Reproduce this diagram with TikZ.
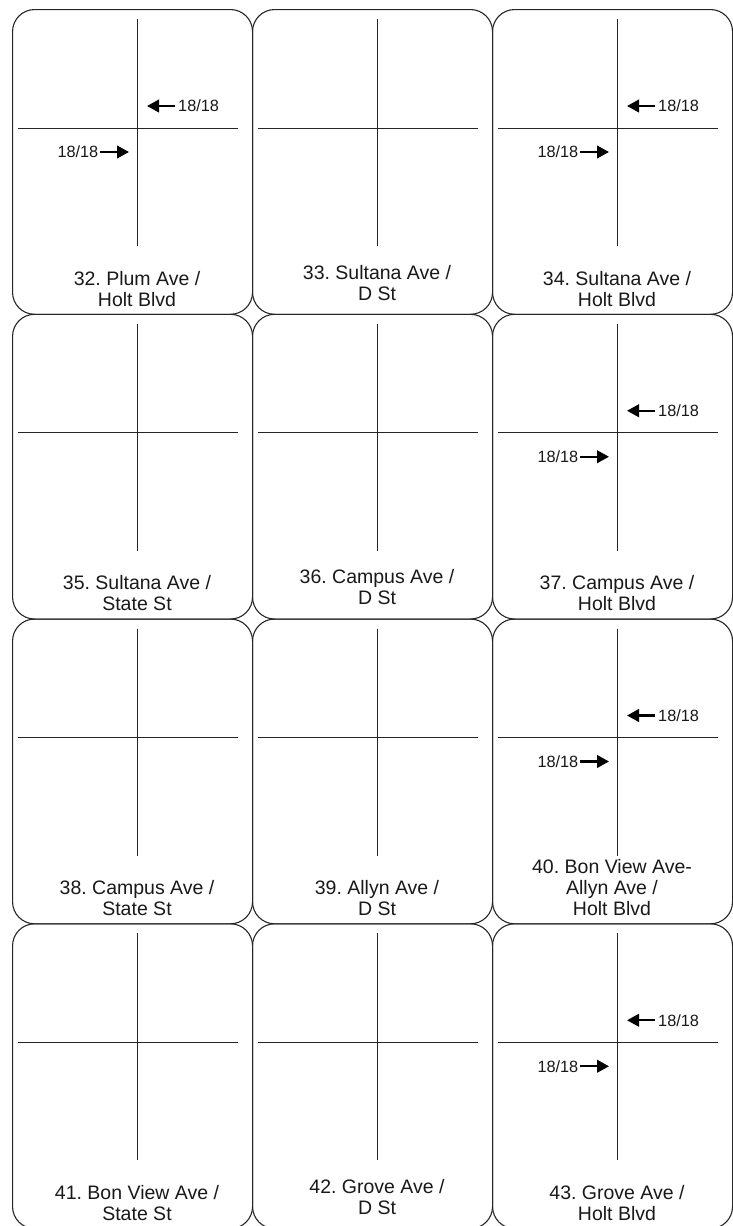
\documentclass[tikz,border=0pt]{standalone}
\usepackage{fontspec}
\setmainfont{Liberation Sans}
\usetikzlibrary{arrows.meta}
\frenchspacing
\tikzset{
  cell/.style={draw=black!85, line width=1.1pt, rounded corners=22pt,
    minimum width=240pt, minimum height=304.75pt, inner sep=0pt, anchor=north west},
  street/.style={draw=black!85, line width=0.9pt},
  flow/.style={draw=black, line width=2.4pt, -{Triangle[length=12pt,width=12.5pt]}},
  vol/.style={font=\fontsize{16.3}{18}\selectfont, inner sep=0pt, text=black!90},
  lbl/.style={font=\fontsize{19.5}{21.5}\selectfont, inner sep=0pt, anchor=base, text=black!90},
}
\newcommand\cellstreets[3]{%
  \node[cell] (#1) at (#2,#3) {};
  \draw[street] (#2+125,#3+10) -- (#2+125,#3+237);
  \draw[street] (#2+6,#3+119) -- (#2+226,#3+119);
}
\newcommand\cellflows[3]{%
  \coordinate (#1wt) at (#2+163,#3+97);
  \coordinate (#1wh) at (#2+135,#3+97);
  \draw[flow] (#1wt) -- (#1wh);
  \node[vol, anchor=west] (#1wv) at (#2+166,#3+97) {18/18};
  \coordinate (#1et) at (#2+88,#3+143);
  \coordinate (#1eh) at (#2+117,#3+143);
  \draw[flow] (#1et) -- (#1eh);
  \node[vol, anchor=east] (#1ev) at (#2+86.5,#3+143) {18/18};
}
% name, x, y(first baseline), line1, line2
\newcommand\twolines[5]{%
  \node[lbl] (#1a) at (#2,#3) {#4};
  \node[lbl] (#1b) at (#2,#3+21) {#5};
}
\begin{document}
\begin{tikzpicture}[x=1pt, y=-1pt]
\useasboundingbox (0,0) rectangle (732,1226);
\fill[white] (0,0) rectangle (732,1226);

% row 1
\cellstreets{c32}{12}{9}
\cellflows{c32}{12}{9}
\twolines{t32}{137}{285}{32. Plum Ave /}{Holt Blvd}
\cellstreets{c33}{252}{9}
\twolines{t33}{377}{279}{33. Sultana Ave /}{D St}
\cellstreets{c34}{492}{9}
\cellflows{c34}{492}{9}
\twolines{t34}{617}{285}{34. Sultana Ave /}{Holt Blvd}

% row 2
\cellstreets{c35}{12}{313.75}
\twolines{t35}{137}{589.75}{35. Sultana Ave /}{State St}
\cellstreets{c36}{252}{313.75}
\twolines{t36}{377}{583.75}{36. Campus Ave /}{D St}
\cellstreets{c37}{492}{313.75}
\cellflows{c37}{492}{313.75}
\twolines{t37}{617}{589.75}{37. Campus Ave /}{Holt Blvd}

% row 3
\cellstreets{c38}{12}{618.5}
\twolines{t38}{137}{894.5}{38. Campus Ave /}{State St}
\cellstreets{c39}{252}{618.5}
\twolines{t39}{377}{894.5}{39. Allyn Ave /}{D St}
\cellstreets{c40}{492}{618.5}
\cellflows{c40}{492}{618.5}
\node[lbl] (t40a) at (612,873.5) {40. Bon View Ave-};
\twolines{t40}{612}{894.5}{Allyn Ave /}{Holt Blvd}

% row 4
\cellstreets{c41}{12}{923.25}
\twolines{t41}{137}{1199.25}{41. Bon View Ave /}{State St}
\cellstreets{c42}{252}{923.25}
\twolines{t42}{377}{1193.25}{42. Grove Ave /}{D St}
\cellstreets{c43}{492}{923.25}
\cellflows{c43}{492}{923.25}
\twolines{t43}{617}{1199.25}{43. Grove Ave /}{Holt Blvd}
\end{tikzpicture}
\end{document}
